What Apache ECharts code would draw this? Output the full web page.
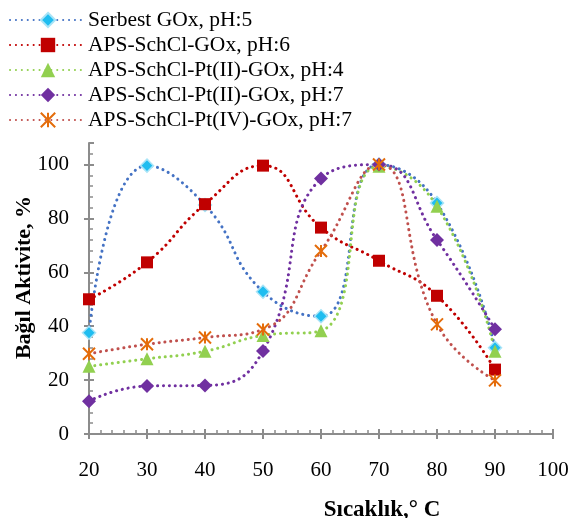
<!DOCTYPE html>
<html>
<head>
<meta charset="utf-8">
<script src="https://cdn.jsdelivr.net/npm/echarts@6/dist/echarts.min.js"></script>
<style>
  html, body { margin: 0; padding: 0; background: #fff; }
  #chart { width: 571px; height: 518px; }
</style>
</head>
<body>
<div id="chart"></div>
<script>
// temperatures (x) and relative activity (%) for each preparation
const temps = [20, 30, 40, 50, 60, 70, 80, 90]
const serbest = [37.6, 99.6, 85, 52.8, 43.7, 100, 85.7, 32]
const schclGox = [50, 63.7, 85.3, 99.6, 76.6, 64.3, 51.3, 23.9]
const pt2ph4 = [25.1, 27.9, 30.7, 36.6, 38.3, 99.4, 84.5, 30.7]
const pt2ph7 = [12.2, 17.8, 18, 30.8, 94.8, 100, 72, 38.9]
const pt4ph7 = [29.8, 33.3, 35.8, 38.8, 67.9, 100, 40.7, 19.9]
const seriesNames = ['Serbest GOx, pH:5', 'APS-SchCl-GOx, pH:6', 'APS-SchCl-Pt(II)-GOx, pH:4',
  'APS-SchCl-Pt(II)-GOx, pH:7', 'APS-SchCl-Pt(IV)-GOx, pH:7']

const font = 'Liberation Serif, Times New Roman, serif'
const axisGrey = '#8c8c8c'
const starPath = 'path://M0,0L10,10M10,0L0,10M5,0L5,10'

function pairs (vals) {
  return temps.map((t, i) => [t, vals[i]])
}

function makeSeries (name, vals, lineColor, symbol, size, item) {
  return {
    name: name,
    type: 'line',
    smooth: 0.5,
    data: pairs(vals),
    symbol: symbol,
    symbolSize: size,
    xAxisIndex: 0,
    yAxisIndex: 0,
    lineStyle: { color: lineColor, width: 3, type: [0.1, 5.8], cap: 'round' },
    itemStyle: item,
    z: 3
  }
}

const chart = echarts.init(document.getElementById('chart'))

const baseX = { type: 'value', min: 20, max: 100, interval: 10, gridIndex: 0 }
const baseY = { type: 'value', min: 0, max: 108, interval: 20, gridIndex: 0 }

const option = {
  animation: false,
  backgroundColor: '#fff',
  textStyle: { fontFamily: font },
  grid: { left: 89, right: 18, top: 143, bottom: 84, outerBoundsMode: 'none', containLabel: false },
  legend: {
    orient: 'vertical',
    left: 4,
    top: 4,
    itemWidth: 76,
    itemHeight: 18,
    itemGap: 3,
    textStyle: { fontFamily: font, fontSize: 21.5, color: '#000', lineHeight: 21, padding: [0, 0, 0, -3] },
    data: seriesNames
  },
  xAxis: [
    Object.assign({}, baseX, {
      name: 'Sıcaklık,° C',
      nameLocation: 'middle',
      nameGap: 65,
      nameMoveOverlap: false,
      nameTextStyle: { fontFamily: font, fontSize: 23, fontWeight: 'bold', color: '#000', padding: [0, 0, 0, 122] },
      axisLine: { lineStyle: { color: axisGrey, width: 2 } },
      axisTick: { show: true, inside: false, length: 5, lineStyle: { color: axisGrey, width: 2 } },
      axisLabel: { margin: 26, fontFamily: font, fontSize: 21, color: '#000' },
      splitLine: { show: false }
    }),
    Object.assign({}, baseX, {
      position: 'bottom',
      axisLine: { show: false },
      axisTick: { show: true, inside: true, length: 5, lineStyle: { color: axisGrey, width: 2 } },
      minorTick: { show: true, splitNumber: 5, length: 4, lineStyle: { color: axisGrey, width: 1.5 } },
      axisLabel: { show: false },
      splitLine: { show: false }
    })
  ],
  yAxis: [
    Object.assign({}, baseY, {
      name: 'Bağıl Aktivite, %',
      nameLocation: 'middle',
      nameGap: 54,
      nameMoveOverlap: false,
      nameTextStyle: { fontFamily: font, fontSize: 22, fontWeight: 'bold', color: '#000', padding: [0, 0, 0, 22] },
      axisLine: { show: true, lineStyle: { color: axisGrey, width: 2 } },
      axisTick: { show: true, inside: false, length: 5, lineStyle: { color: axisGrey, width: 2 } },
      axisLabel: { margin: 20, fontFamily: font, fontSize: 21, color: '#000', showMaxLabel: false },
      splitLine: { show: false }
    }),
    Object.assign({}, baseY, {
      position: 'left',
      axisLine: { show: false },
      axisTick: { show: true, inside: true, length: 5, lineStyle: { color: axisGrey, width: 2 } },
      minorTick: { show: true, splitNumber: 5, length: 4, lineStyle: { color: axisGrey, width: 1.5 } },
      axisLabel: { show: false },
      splitLine: { show: false }
    })
  ],
  series: [
    makeSeries(seriesNames[0], serbest, '#4472C4', 'diamond', 13,
      { color: '#1fbdf0', borderColor: '#a9e4f7', borderWidth: 1.5 }),
    makeSeries(seriesNames[1], schclGox, '#C00000', 'rect', 12,
      { color: '#C00000' }),
    makeSeries(seriesNames[2], pt2ph4, '#92D050', 'triangle', 13,
      { color: '#92D050' }),
    makeSeries(seriesNames[3], pt2ph7, '#7030A0', 'diamond', 14,
      { color: '#7030A0' }),
    makeSeries(seriesNames[4], pt4ph7, '#C0504D', starPath, 12,
      { color: 'rgba(0,0,0,0)', borderColor: '#E46C0A', borderWidth: 2 })
  ]
}

chart.setOption(option)
</script>
</body>
</html>
